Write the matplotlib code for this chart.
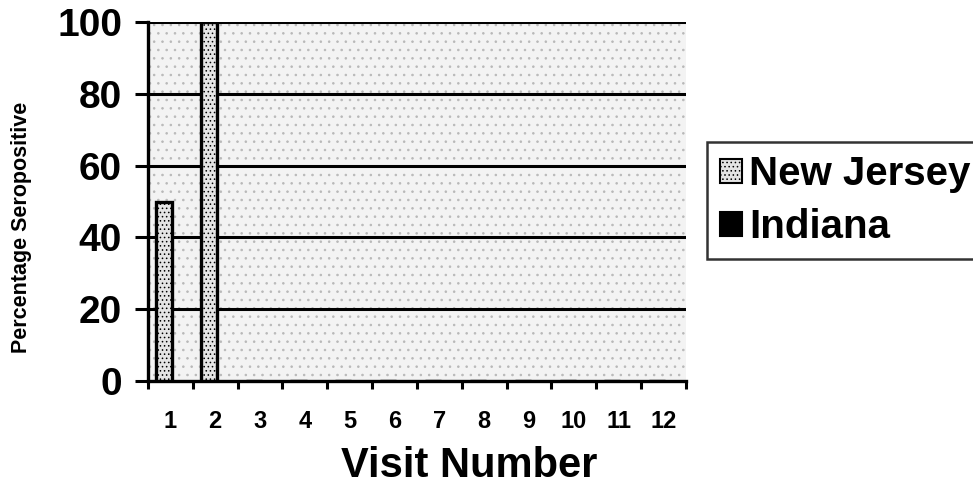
import matplotlib
matplotlib.use("Agg")
import matplotlib.pyplot as plt
import numpy as np

visits = ["1", "2", "3", "4", "5", "6", "7", "8", "9", "10", "11", "12"]
new_jersey = [50, 100, 0, 0, 0, 0, 0, 0, 0, 0, 0, 0]
indiana = [0, 0, 0, 0, 0, 0, 0, 0, 0, 0, 0, 0]
yticks = [0, 20, 40, 60, 80, 100]

plt.rcParams['font.family'] = ['Liberation Sans', 'DejaVu Sans']
plt.rcParams['font.weight'] = 'bold'
plt.rcParams['hatch.color'] = '#a8a8a8'
plt.rcParams['hatch.linewidth'] = 0.6

fig = plt.figure(figsize=(9.73, 5.01), dpi=100)
ax = fig.add_axes([0.152, 0.2395, 0.553, 0.7165])

x = np.arange(len(visits)) + 1
w = 0.36
ax.set_facecolor('#f3f3f3')
ax.patch.set_hatch('..')
ax.patch.set_edgecolor('#b8b8b8')

for y in yticks[1:]:
    ax.axhline(y, color='black', lw=2.2, zorder=1)

ax.bar(x - 0.14, new_jersey, w, color='#e4e4e4', hatch='....',
       edgecolor='black', linewidth=2.4, zorder=3, label='New Jersey')
ax.bar(x + 0.22, indiana, w, color='black', edgecolor='black',
       linewidth=0, zorder=3, label='Indiana')

ax.set_xlim(0.5, 12.5)
ax.set_ylim(0, 100)
ax.set_yticks(yticks)
ax.set_yticklabels([str(v) for v in yticks], fontsize=28, fontweight='bold')
ax.set_xticks(x)
ax.set_xticklabels(visits, fontsize=17, fontweight='bold')
ax.set_xticks(np.arange(0.5, 13.0, 1.0), minor=True)
ax.tick_params(axis='x', which='major', length=0, pad=21)
ax.tick_params(axis='x', which='minor', length=6, width=2.2, direction='out')
ax.tick_params(axis='y', length=9.5, width=2.2, direction='out', pad=9)

for s in ['top', 'right']:
    ax.spines[s].set_visible(False)
ax.spines['left'].set_linewidth(2.4)
ax.spines['bottom'].set_linewidth(2.4)

ax.set_ylabel('Percentage Seropositive', fontsize=15.5, fontweight='bold')
ax.yaxis.set_label_coords(-0.215, 0.429)
ax.set_xlabel('Visit Number', fontsize=30, fontweight='bold')
ax.xaxis.set_label_coords(0.597, -0.18)

leg = fig.legend(loc='upper left', bbox_to_anchor=(0.727, 0.716), fontsize=29,
                 frameon=True, fancybox=False, edgecolor='black',
                 handlelength=0.55, handleheight=0.55, handletextpad=0.17,
                 borderpad=0.32, labelspacing=0.38, borderaxespad=0)
leg.get_frame().set_linewidth(1.8)
for t in leg.get_texts():
    t.set_fontweight('bold')
for h in leg.legend_handles:
    h.set_linewidth(1.5)
    h.set_edgecolor('black')

fig.savefig('out.png', dpi=100)
